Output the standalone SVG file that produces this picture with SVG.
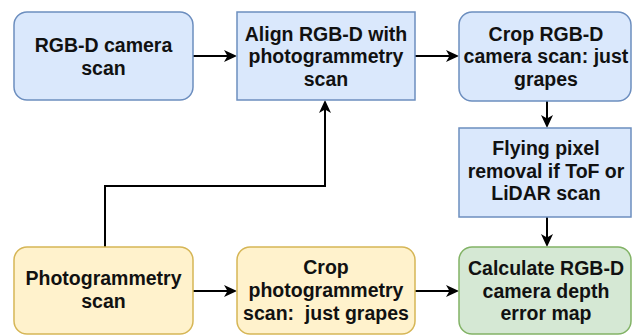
<svg xmlns="http://www.w3.org/2000/svg" width="632" height="335" viewBox="0 0 632 335">
<style>
.blue{fill:#dae8fc;stroke:#6c8ebf;stroke-width:1.5}
.yellow{fill:#fff2cc;stroke:#d6b656;stroke-width:1.5}
.green{fill:#d5e8d4;stroke:#82b366;stroke-width:1.5}
text{font-family:"Liberation Sans",Arial,Helvetica,sans-serif;font-weight:bold;font-size:19.5px;fill:#111;text-anchor:middle;white-space:pre}
.edge{fill:none;stroke:#000;stroke-width:2}
</style>
<defs>
<marker id="arr" markerUnits="userSpaceOnUse" markerWidth="14" markerHeight="12" refX="10" refY="6" orient="auto" overflow="visible">
<path d="M0,0 L13,6 L0,12 L3.5,6 Z" fill="#000"/>
</marker>
</defs>
<rect width="632" height="335" fill="#fff"/>
<g id="connectors">
<path class="edge" d="M193,56 H234" marker-end="url(#arr)"/>
<path class="edge" d="M415,56 H456" marker-end="url(#arr)"/>
<path class="edge" d="M547,101 V125" marker-end="url(#arr)"/>
<path class="edge" d="M547,217 V244" marker-end="url(#arr)"/>
<path class="edge" d="M105,247 V186 H325 V103" marker-end="url(#arr)"/>
<path class="edge" d="M193,291 H234" marker-end="url(#arr)"/>
<path class="edge" d="M415,291 H456" marker-end="url(#arr)"/>
</g>
<g id="rgbd-scan">
<rect class="blue" x="14" y="12" width="179" height="88" rx="13"/>
<text x="103.5" y="51.5">RGB-D camera</text>
<text x="103.5" y="75">scan</text>
</g>
<g id="align">
<rect class="blue" x="237" y="12" width="178" height="88"/>
<text x="326" y="40.5">Align RGB-D with</text>
<text x="326" y="63">photogrammetry</text>
<text x="326" y="85.5">scan</text>
</g>
<g id="crop-rgbd">
<rect class="blue" x="459" y="12" width="172" height="89" rx="13"/>
<text x="546" y="40.5">Crop RGB-D</text>
<text x="546" y="63">camera scan: just</text>
<text x="546" y="85.5">grapes</text>
</g>
<g id="flying-pixel">
<rect class="blue" x="459" y="128" width="172" height="89"/>
<text x="546" y="155">Flying pixel</text>
<text x="546" y="177.5">removal if ToF or</text>
<text x="546" y="200">LiDAR scan</text>
</g>
<g id="photogrammetry">
<rect class="yellow" x="14" y="247" width="179" height="87" rx="13"/>
<text x="103.5" y="285">Photogrammetry</text>
<text x="103.5" y="308">scan</text>
</g>
<g id="crop-photo">
<rect class="yellow" x="237" y="247" width="178" height="87" rx="13"/>
<text x="326" y="274">Crop</text>
<text x="326" y="297">photogrammetry</text>
<text x="326" y="320">scan:  just grapes</text>
</g>
<g id="error-map">
<rect class="green" x="459" y="247" width="172" height="87" rx="13"/>
<text x="546" y="275">Calculate RGB-D</text>
<text x="546" y="297.5">camera depth</text>
<text x="546" y="320">error map</text>
</g>
</svg>
